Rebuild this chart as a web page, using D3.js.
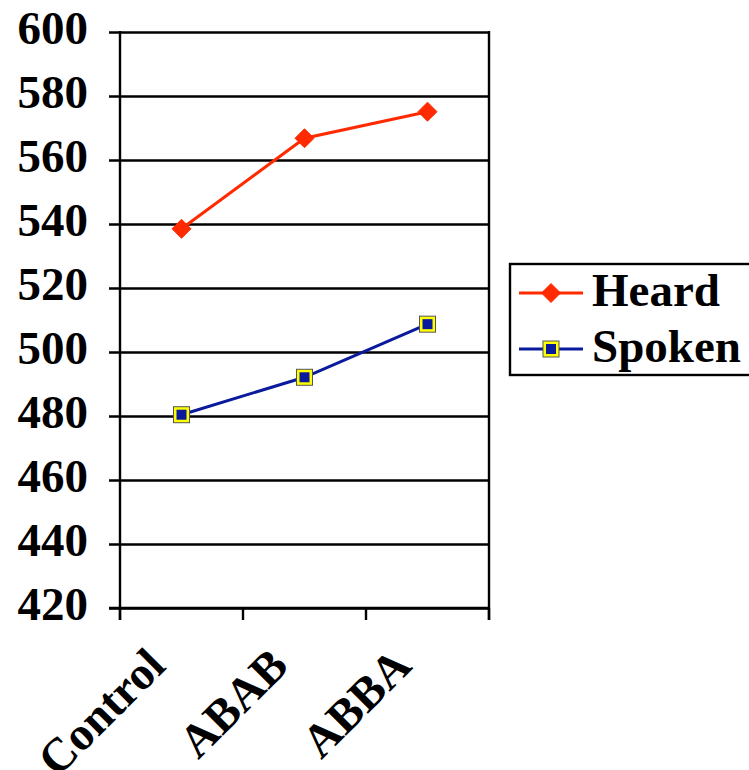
<!DOCTYPE html>
<html>
<head>
<meta charset="utf-8">
<script src="https://cdn.jsdelivr.net/npm/d3@7/dist/d3.min.js"></script>
<style>
  html, body { margin: 0; padding: 0; background: #fff; }
  svg { display: block; }
  text { font-family: "Liberation Serif", "Times New Roman", serif; font-weight: bold; }
</style>
</head>
<body>
<script>
// Reaction-time data per condition
const categories = ["Control", "ABAB", "ABBA"];
const heard = [538.5, 566.8, 575.1];
const spoken = [480.4, 492.1, 508.7];
const yTicks = [420, 440, 460, 480, 500, 520, 540, 560, 580, 600];
const seriesNames = ["Heard", "Spoken"];

const W = 749, H = 770;
const plot = { left: 120, right: 489, top: 32, bottom: 608 };
const serif = "'Liberation Serif', 'Times New Roman', serif";

const svg = d3.select("body").append("svg")
  .attr("width", W).attr("height", H);

const x = d3.scaleBand().domain(categories).range([plot.left, plot.right]).padding(0);
const y = d3.scaleLinear().domain([420, 600]).range([plot.bottom, plot.top]);

// Horizontal gridlines with left tick stubs
const yAxis = d3.axisLeft(y).tickValues(yTicks)
  .tickSize(-(plot.right - plot.left)).tickSizeOuter(0).tickPadding(0)
  .tickFormat(d3.format("d"));
const gy = svg.append("g").attr("transform", `translate(${plot.left},0)`).call(yAxis)
  .attr("font-family", serif);
gy.select(".domain").remove();
gy.selectAll(".tick line")
  .attr("x1", -11).attr("x2", plot.right - plot.left)
  .attr("stroke", "#000").attr("stroke-width", 2.4);
gy.selectAll(".tick text")
  .attr("x", -32).attr("dy", null).attr("y", 11)
  .attr("font-size", 47).attr("fill", "#000")
  .style("font-family", serif)
  .style("font-weight", "bold");

// Left and right vertical borders
svg.append("line").attr("x1", plot.left).attr("x2", plot.left)
  .attr("y1", plot.top - 1).attr("y2", plot.bottom + 12)
  .attr("stroke", "#000").attr("stroke-width", 2.4);
svg.append("line").attr("x1", plot.right).attr("x2", plot.right)
  .attr("y1", plot.top - 1).attr("y2", plot.bottom + 12)
  .attr("stroke", "#000").attr("stroke-width", 2.4);

// Category axis: boundary ticks between bands
const bounds = categories.map(c => x(c)).concat([plot.right]);
svg.append("line").attr("x1", plot.left - 11).attr("x2", plot.right)
  .attr("y1", plot.bottom).attr("y2", plot.bottom)
  .attr("stroke", "#000").attr("stroke-width", 2.4);
svg.selectAll(".xtick").data(bounds).enter().append("line")
  .attr("x1", d => d).attr("x2", d => d)
  .attr("y1", plot.bottom).attr("y2", plot.bottom + 12)
  .attr("stroke", "#000").attr("stroke-width", 2.4);

const cx = c => x(c) + x.bandwidth() / 2;

svg.selectAll(".xlabel").data(categories).enter().append("text")
  .attr("text-anchor", "end")
  .attr("font-size", 47)
  .attr("fill", "#000")
  .style("font-family", serif)
  .attr("transform", d => `translate(${cx(d) - 14},${plot.bottom + 60}) rotate(-45)`)
  .text(d => d);

// Series lines
const line = d3.line().x((d, i) => cx(categories[i])).y(d => y(d));

svg.append("path").datum(heard).attr("d", line)
  .attr("fill", "none").attr("stroke", "#ff2a00").attr("stroke-width", 3);
svg.append("path").datum(spoken).attr("d", line)
  .attr("fill", "none").attr("stroke", "#0a1a9c").attr("stroke-width", 3);

// Markers
function diamond(g, px, py) {
  g.append("path")
    .attr("d", `M${px},${py - 9.5}L${px + 9.5},${py}L${px},${py + 9.5}L${px - 9.5},${py}Z`)
    .attr("fill", "#ff2a00").attr("stroke", "#ff2a00").attr("stroke-width", 1)
    .attr("stroke-linejoin", "round");
}
function square(g, px, py) {
  g.append("rect").attr("x", px - 8).attr("y", py - 8).attr("width", 16).attr("height", 16)
    .attr("fill", "#ffff00").attr("stroke", "#555").attr("stroke-width", 1);
  g.append("rect").attr("x", px - 5).attr("y", py - 5).attr("width", 10).attr("height", 10)
    .attr("fill", "#0a1a9c");
}
const mk = svg.append("g");
heard.forEach((v, i) => diamond(mk, cx(categories[i]), y(v)));
spoken.forEach((v, i) => square(mk, cx(categories[i]), y(v)));

// Legend
const lg = svg.append("g");
lg.append("rect").attr("x", 510).attr("y", 264).attr("width", 260).attr("height", 111)
  .attr("fill", "#fff").attr("stroke", "#000").attr("stroke-width", 2.4);
const rows = [
  { name: seriesNames[0], color: "#ff2a00", ly: 293, marker: diamond },
  { name: seriesNames[1], color: "#0a1a9c", ly: 349, marker: square }
];
rows.forEach(r => {
  lg.append("line").attr("x1", 519).attr("x2", 583).attr("y1", r.ly).attr("y2", r.ly)
    .attr("stroke", r.color).attr("stroke-width", 3);
  r.marker(lg, 551, r.ly);
  lg.append("text").attr("x", 592).attr("y", r.ly + 13)
    .attr("font-size", 47).attr("fill", "#000")
    .style("font-family", serif).text(r.name);
});
</script>
</body>
</html>
